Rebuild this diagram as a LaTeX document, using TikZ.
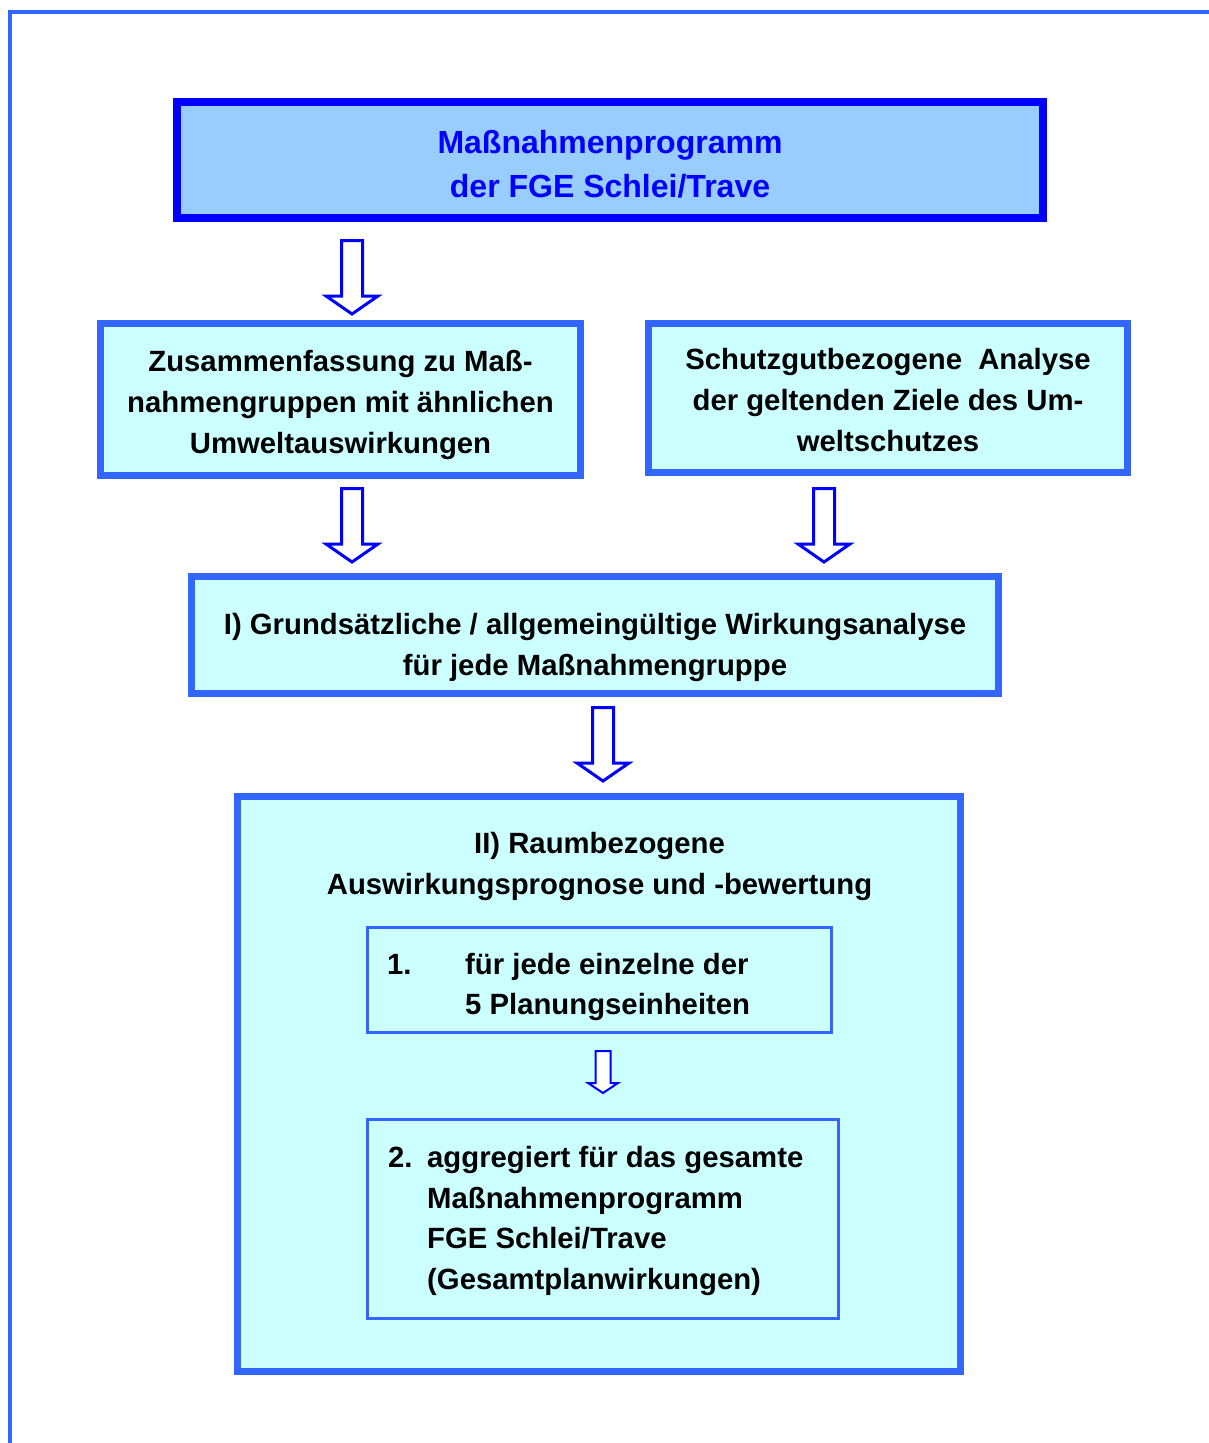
\documentclass[tikz,border=0pt]{standalone}
\usepackage{fontspec}
\setmainfont{Liberation Sans}
\definecolor{frameblue}{HTML}{3366FF}
\definecolor{deepblue}{HTML}{0000FF}
\definecolor{lightblue}{HTML}{99CCFF}
\definecolor{paleblue}{HTML}{CCFFFF}
% #1 start coordinate (top centre), #2 half shaft width, #3 shaft length, #4 half head width, #5 head length, #6 line width
\newcommand\BlockArrow[6]{%
  \draw[blockarrow, line width=#6] (#1) ++({-#2},0) -- ++({2*#2},0) -- ++(0,#3) -- ++({#4-#2},0)
    -- ++({-#4},#5) -- ++({-#4},{-#5}) -- ++({#4-#2},0) -- cycle;}
\begin{document}
\begin{tikzpicture}[x=1pt,y=-1pt,
  txt/.style={font=\fontsize{29.3pt}{41pt}\selectfont\bfseries, align=center, inner sep=0pt},
  toptxt/.style={font=\fontsize{32pt}{44pt}\selectfont\bfseries, align=center, inner sep=0pt, text=deepblue},
  linetxt/.style={font=\fontsize{29.3pt}{41pt}\selectfont\bfseries, inner sep=0pt, anchor=base west},
  mainbox/.style={draw=deepblue, line width=8pt, fill=lightblue, inner sep=0pt},
  subbox/.style={draw=frameblue, line width=7pt, fill=paleblue, inner sep=0pt},
  innerbox/.style={draw=frameblue, line width=3.5pt, inner sep=0pt},
  blockarrow/.style={draw=deepblue, fill=white, line join=miter},
]
\useasboundingbox (0,0) rectangle (1209,1443);
\draw[frameblue, line width=4pt] (10,1443) -- (10,12) -- (1209,12);

% boxes
\node[mainbox, minimum width=866pt, minimum height=116pt] (top) at (610,160) {};
\node[subbox, minimum width=480pt, minimum height=152pt] (left) at (340.5,399.5) {};
\node[subbox, minimum width=479pt, minimum height=149pt] (right) at (888,398) {};
\node[subbox, minimum width=807pt, minimum height=117pt] (grund) at (595,635) {};
\node[subbox, minimum width=723pt, minimum height=575pt] (raum) at (599,1084) {};
\node[innerbox, minimum width=464pt, minimum height=105pt] (one) at (599.5,980) {};
\node[innerbox, minimum width=471pt, minimum height=199pt] (two) at (603,1219) {};

% texts
\node[toptxt] (toptext) at (610,164) {Maßnahmenprogramm\\der FGE Schlei/Trave};
\node[txt] (lefttext) at (340.5,404.5) {Zusammenfassung zu Maß-\\nahmengruppen mit ähnlichen\\Umweltauswirkungen};
\node[txt] (righttext) at (888,400.5) {Schutzgutbezogene\ \ Analyse\\der geltenden Ziele des Um-\\weltschutzes};
\node[txt] (grundtext) at (595,647) {I) Grundsätzliche / allgemeingültige Wirkungsanalyse\\für jede Maßnahmengruppe};
\node[txt] (raumtext) at (599.5,866) {II) Raumbezogene\\Auswirkungsprognose und -bewertung};

\node[linetxt] (onenum) at (387,974) {1.};
\node[linetxt] (oneA) at (465,974) {für jede einzelne der};
\node[linetxt] (oneB) at (465,1014) {5 Planungseinheiten};

\node[linetxt] (twonum) at (388,1167) {2.};
\node[linetxt] (twoA) at (427,1167) {aggregiert für das gesamte};
\node[linetxt] (twoB) at (427,1208) {Maßnahmenprogramm};
\node[linetxt] (twoC) at (427,1248) {FGE Schlei/Trave};
\node[linetxt] (twoD) at (427,1289) {(Gesamtplanwirkungen)};

% block arrows
\coordinate (arrA) at (352,240.5);
\coordinate (arrB) at (352,488.5);
\coordinate (arrC) at (824,488.5);
\coordinate (arrD) at (603,707.5);
\coordinate (arrE) at (603,1051);
\BlockArrow{arrA}{10.5}{55.5}{26}{18}{3pt}
\BlockArrow{arrB}{10.5}{55.5}{26}{18}{3pt}
\BlockArrow{arrC}{10.5}{55.5}{26}{18}{3pt}
\BlockArrow{arrD}{10.5}{55.5}{26}{18}{3pt}
\BlockArrow{arrE}{7.5}{32}{15}{10}{2pt}
\end{tikzpicture}
\end{document}
